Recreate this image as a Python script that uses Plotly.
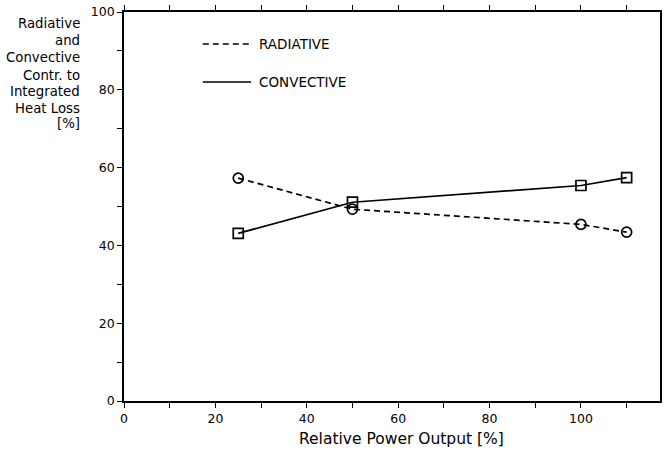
import plotly.graph_objects as go

power = [25, 50, 100, 110]
radiative = [57.3, 49.3, 45.4, 43.4]
convective = [43.1, 51.1, 55.4, 57.4]

x_ticks = [0, 20, 40, 60, 80, 100]
y_ticks = [0, 20, 40, 60, 80, 100]

y_title_lines = ["Radiative", "and", "Convective", "Contr. to", "Integrated", "Heat Loss", "[%]"]
x_title = "Relative Power Output [%]"

FONT = "DejaVu Sans"

fig = go.Figure()
fig.add_trace(go.Scatter(
    x=power, y=radiative, mode="lines+markers", name="RADIATIVE",
    line=dict(color="black", width=1.7, dash="6px,4px"),
    marker=dict(symbol="circle-open", size=10, color="black", line=dict(width=1.7)),
    showlegend=False,
))
fig.add_trace(go.Scatter(
    x=power, y=convective, mode="lines+markers", name="CONVECTIVE",
    line=dict(color="black", width=1.7),
    marker=dict(symbol="square-open", size=10, color="black", line=dict(width=1.7)),
    showlegend=False,
))

# plot area in pixels: left 124, right 662, top 12, bottom 401
def py(pix):
    return (401 - pix) / 389

def px(pix):
    return (pix - 124) / 538

# legend drawn as line samples + labels
legend_items = [("RADIATIVE", "6px,4px", py(44)), ("CONVECTIVE", "solid", py(82))]
for label, dash, yp in legend_items:
    fig.add_shape(type="line", xref="paper", yref="paper",
                  x0=0.147, x1=0.237, y0=yp, y1=yp,
                  line=dict(color="black", width=1.4, dash=dash))
    fig.add_annotation(xref="paper", yref="paper", x=0.248, y=yp, text=label,
                       showarrow=False, xanchor="left", yanchor="middle",
                       font=dict(family=FONT, size=13.5, color="black"))

line_centers = [23.5, 40, 58, 75, 91.5, 108, 123.5]
for txt, yc in zip(y_title_lines, line_centers):
    fig.add_annotation(
        xref="paper", yref="paper", x=px(82), y=py(yc), xanchor="right", yanchor="middle",
        align="right", showarrow=False, text=txt,
        font=dict(family=FONT, size=13.3, color="black"),
    )

fig.add_annotation(
    xref="paper", yref="paper", x=px(403), y=py(439), xanchor="center", yanchor="middle",
    showarrow=False, text=x_title,
    font=dict(family=FONT, size=15.5, color="black"),
)

fig.update_xaxes(
    range=[0, 117.3], tickvals=x_ticks, ticks="outside", ticklen=5, tickwidth=1.3,
    minor=dict(dtick=10, tick0=0, ticks="outside", ticklen=5, tickwidth=1.3, tickcolor="black"),
    showline=True, linecolor="black", linewidth=1.6, mirror="ticks",
    showgrid=False, zeroline=False, tickcolor="black",
    tickfont=dict(family=FONT, size=12.5, color="black"),
)
fig.update_yaxes(
    range=[0, 100], tickvals=y_ticks, ticks="outside", ticklen=5, tickwidth=1.3,
    minor=dict(dtick=10, tick0=0, ticks="outside", ticklen=5, tickwidth=1.3, tickcolor="black"),
    showline=True, linecolor="black", linewidth=1.6, mirror=True,
    showgrid=False, zeroline=False, tickcolor="black",
    tickfont=dict(family=FONT, size=12.5, color="black"),
)

fig.update_layout(
    width=665, height=450,
    margin=dict(l=124, r=3, t=12, b=49),
    plot_bgcolor="white", paper_bgcolor="white",
)

fig.write_html("out.html")
